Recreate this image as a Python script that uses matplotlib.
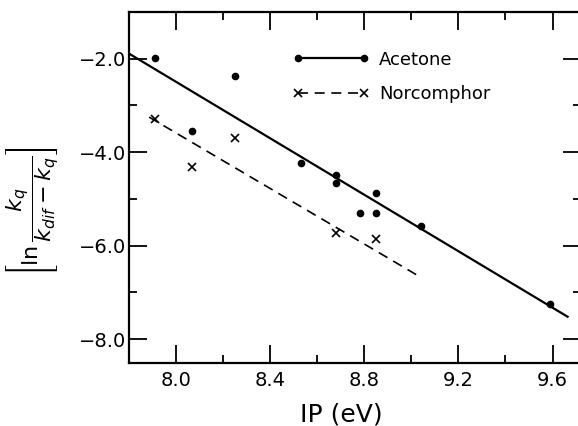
import matplotlib
matplotlib.use("Agg")
import matplotlib.pyplot as plt
from matplotlib.ticker import MultipleLocator

# acetone quenching data (filled circles)
acetone_ip = [7.91, 8.07, 8.25, 8.53, 8.68, 8.68, 8.78, 8.85, 8.85, 9.04, 9.59]
acetone_lnk = [-1.99, -3.55, -2.38, -4.24, -4.48, -4.65, -5.31, -4.87, -5.31, -5.57, -7.24]

# norcomphor quenching data (crosses)
norcomphor_ip = [7.91, 8.07, 8.25, 8.68, 8.85]
norcomphor_lnk = [-3.28, -4.31, -3.69, -5.73, -5.86]

# fitted lines, endpoints
acetone_fit_ip = [7.80, 9.664]
acetone_fit_lnk = [-1.89, -7.52]
norcomphor_fit_ip = [7.886, 9.031]
norcomphor_fit_lnk = [-3.25, -6.65]

plt.rcParams['font.family'] = ['DejaVu Sans']
plt.rcParams['mathtext.fontset'] = 'dejavusans'

fig = plt.figure(figsize=(5.78, 4.26), dpi=100)
# right spine falls just outside the picture, as in the original scan
ax = fig.add_axes([0.223, 0.149, 0.783, 0.823])

ax.plot(acetone_fit_ip, acetone_fit_lnk, color='black', lw=1.6, linestyle='-')
ax.plot(norcomphor_fit_ip, norcomphor_fit_lnk, color='black', lw=1.2, linestyle=(0, (6, 4)))
ax.plot(acetone_ip, acetone_lnk, 'o', color='black', ms=4.5, linestyle='none')
ax.plot(norcomphor_ip, norcomphor_lnk, 'x', color='black', ms=5.5, mew=1.2, linestyle='none')

# legend handles: line with markers
ac_handle, = ax.plot([], [], color='black', lw=1.6, marker='o', ms=4.5)
nc_handle, = ax.plot([], [], color='black', lw=1.2, linestyle=(0, (6, 4)), marker='x', ms=5.5, mew=1.2)
ax.legend([ac_handle, nc_handle], ['Acetone', 'Norcomphor'], loc='upper left',
          bbox_to_anchor=(0.345, 0.91), frameon=False, numpoints=2, handlelength=4.3,
          handletextpad=0.5, fontsize=13, labelspacing=0.9, borderaxespad=0)

ax.set_xlim(7.8, 9.723)
ax.set_ylim(-8.5, -1.0)
ax.xaxis.set_major_locator(MultipleLocator(0.4))
ax.xaxis.set_minor_locator(MultipleLocator(0.2))
ax.yaxis.set_major_locator(MultipleLocator(2.0))
ax.yaxis.set_minor_locator(MultipleLocator(1.0))
ax.tick_params(which='both', direction='in', top=True, right=True, width=1.3, labelsize=14)
ax.tick_params(which='major', length=13)
ax.tick_params(which='minor', length=6)
ax.tick_params(axis='y', pad=2)
ax.tick_params(axis='x', pad=6)
ax.xaxis.set_major_formatter(plt.FuncFormatter(lambda v, p: f"{v:.1f}"))
ax.yaxis.set_major_formatter(plt.FuncFormatter(lambda v, p: f"\u2212{abs(v):.1f}"))

for s in ax.spines.values():
    s.set_linewidth(1.6)

ax.set_xlabel('IP (eV)', fontsize=18)
ax.xaxis.set_label_coords(0.47, -0.115)
ax.set_ylabel(r'$\left[\mathrm{ln}\,\dfrac{k_q}{k_{dif}-k_q}\right]$', fontsize=16)
ax.yaxis.set_label_coords(-0.15, 0.43)

fig.savefig('out.png', dpi=100)
